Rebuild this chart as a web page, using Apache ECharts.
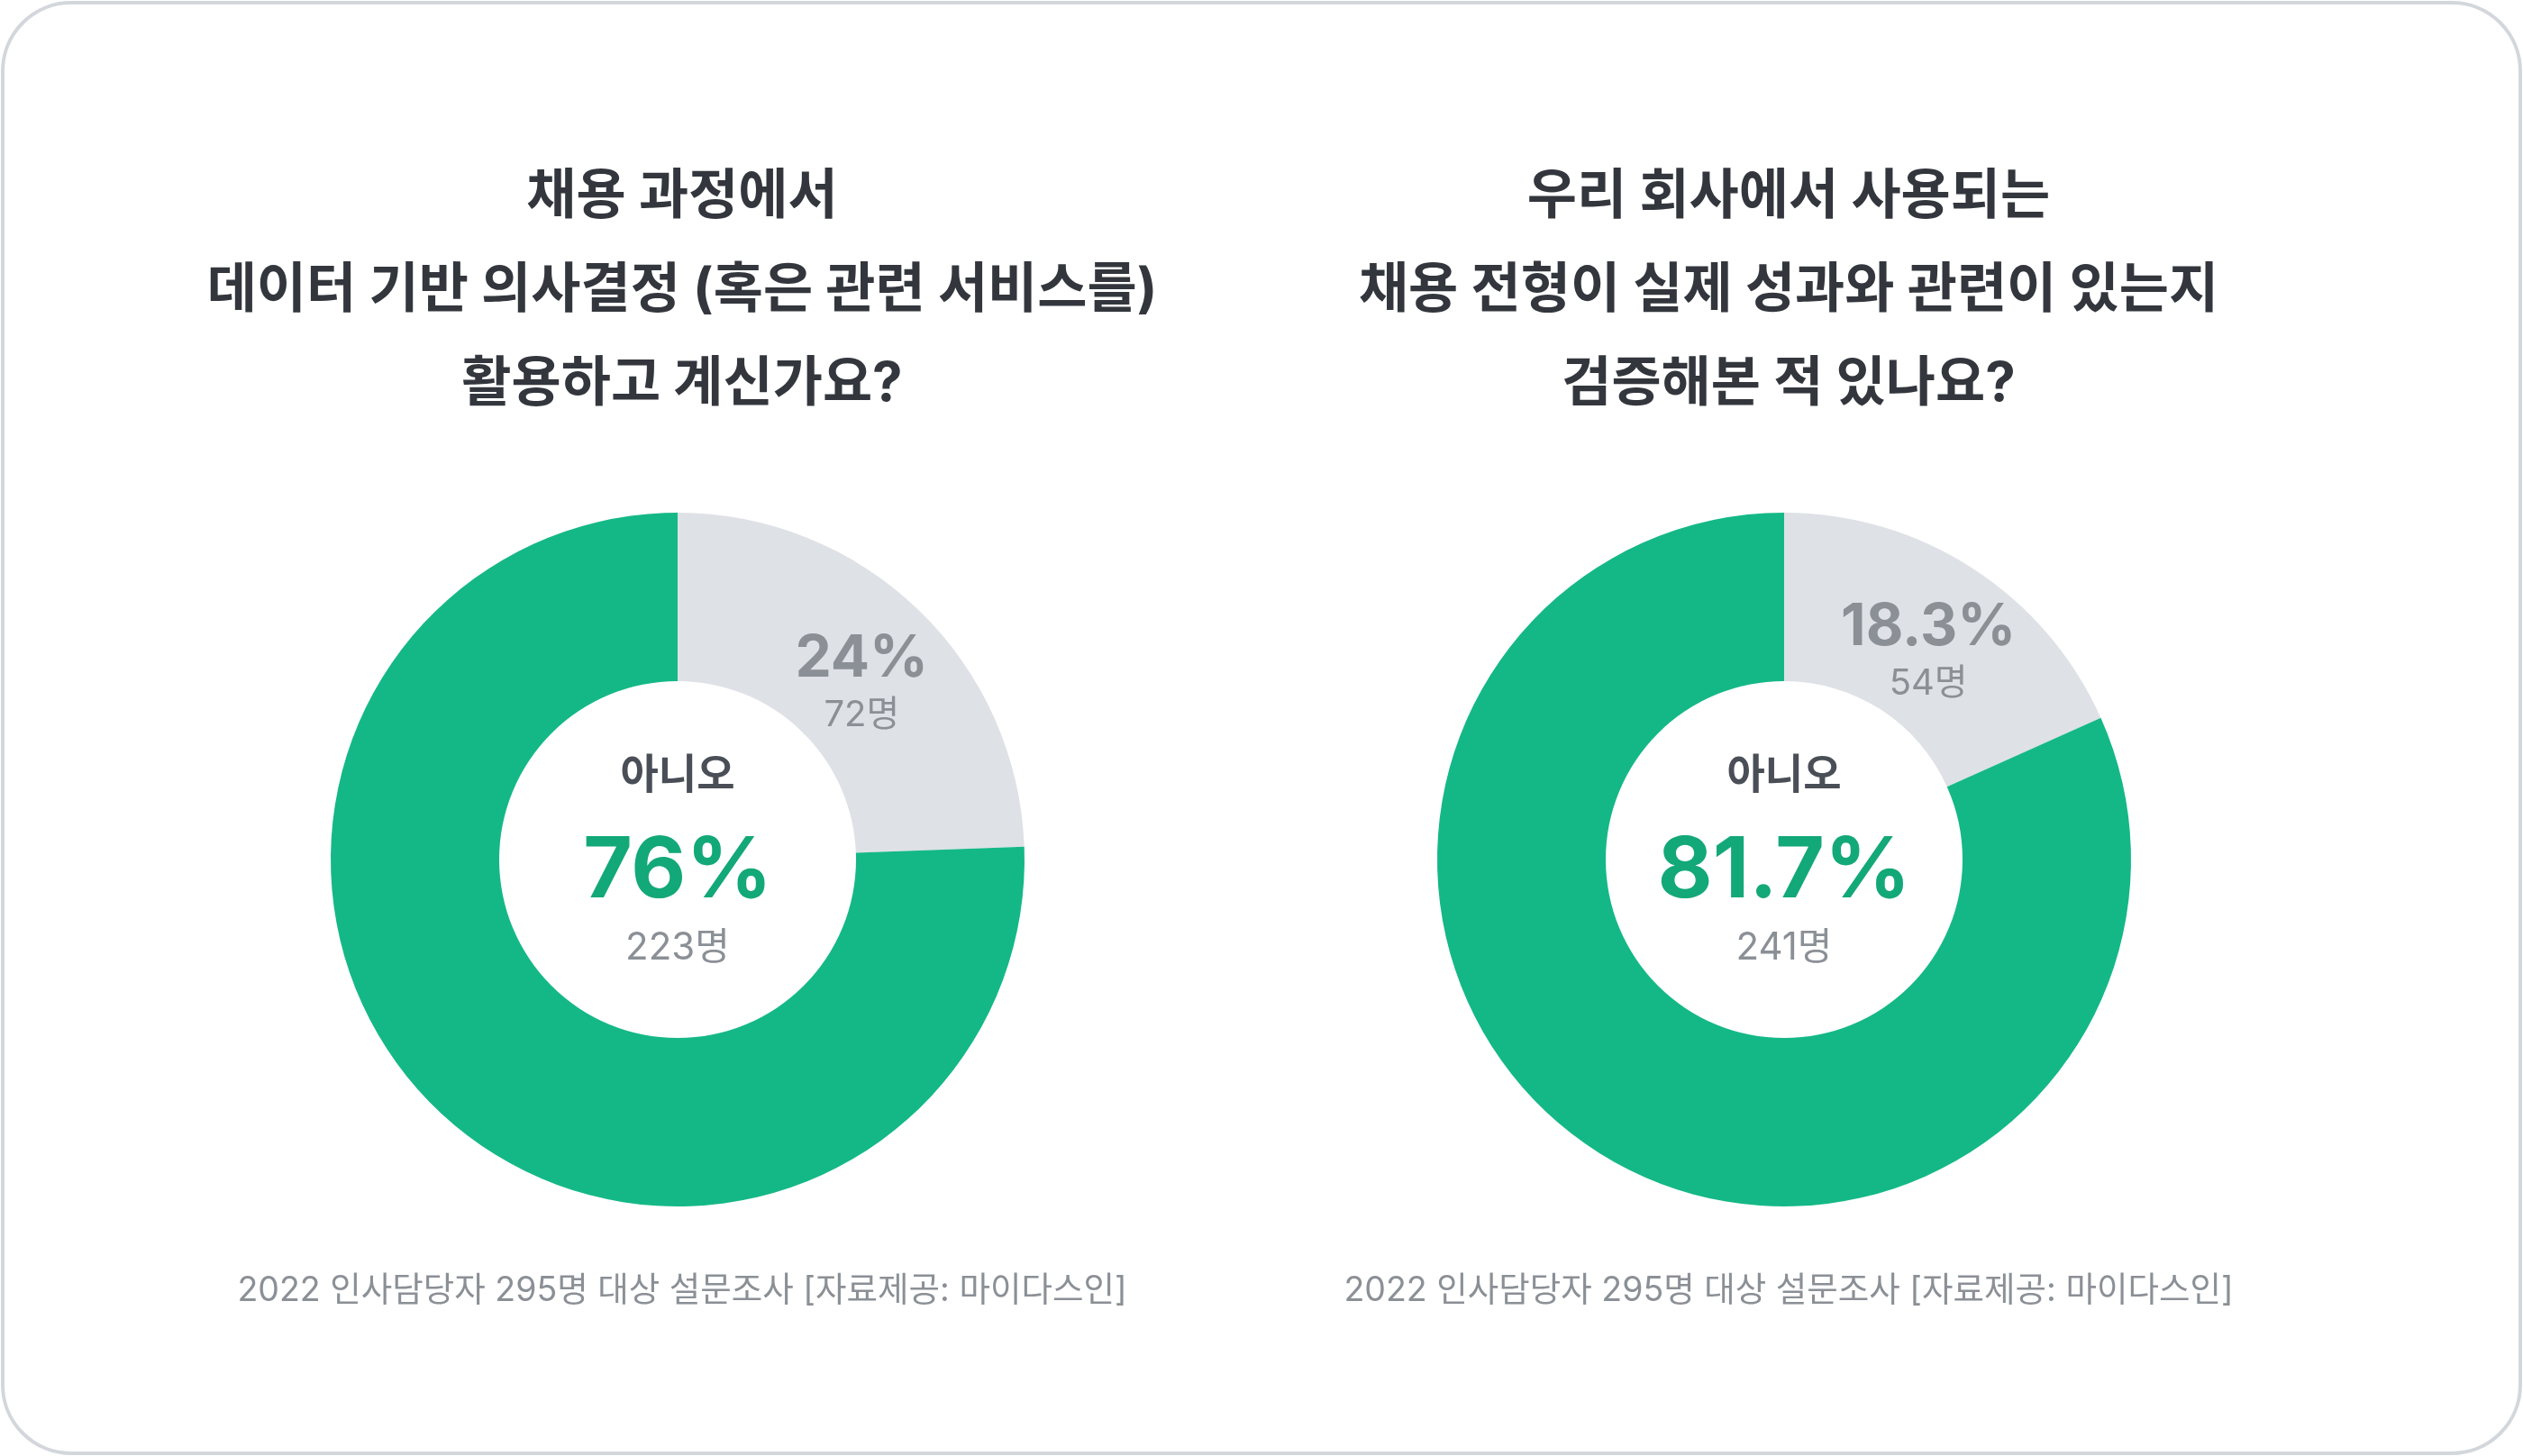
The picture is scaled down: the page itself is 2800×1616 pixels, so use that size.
<!DOCTYPE html>
<html>
<head>
<meta charset="utf-8">
<script src="https://cdn.jsdelivr.net/npm/echarts@6/dist/echarts.min.js"></script>
<style>
html,body{margin:0;padding:0;background:#fff;}
#chart{width:2800px;height:1616px;}
</style>
</head>
<body>
<div id="chart"></div>
<script>
// ---- data ----
const titles = [
  ['채용 과정에서', '데이터 기반 의사결정 (혹은 관련 서비스를)', '활용하고 계신가요?'],
  ['우리 회사에서 사용되는', '채용 전형이 실제 성과와 관련이 있는지', '검증해본 적 있나요?']
];
const categories = ['예', '아니오'];
const countsLeft = [72, 223];
const countsRight = [54, 241];
const pctLeft = ['24%', '76%'];
const pctRight = ['18.3%', '81.7%'];
const footnote = '2022 인사담당자 295명 대상 설문조사 [자료제공: 마이다스인]';

const FONT = "Inter, 'Noto Sans CJK KR', 'Noto Sans', sans-serif";
const GREEN = '#14b886';
const GREY = '#dee1e6';

function buildPie(counts, pcts, cx) {
  return {
    type: 'pie',
    center: [cx, 954],
    radius: [198, 385],
    startAngle: 90,
    clockwise: true,
    silent: true,
    labelLine: { show: false },
    data: counts.map((v, i) => {
      const isMain = i === 1;
      return {
        value: v,
        name: categories[i],
        itemStyle: { color: isMain ? GREEN : GREY },
        label: isMain ? {
          show: true,
          position: 'center',
          padding: [0, 0, 18, 0],
          formatter: '{n|' + categories[i] + '}\n{p|' + pcts[i] + '}\n{c|' + v + '명}',
          rich: {
            n: { fontFamily: FONT, fontSize: 46, fontWeight: 'bold', color: '#4a4f57', lineHeight: 114 },
            p: { fontFamily: FONT, fontSize: 94, fontWeight: 'bold', color: '#13a878', lineHeight: 100 },
            c: { fontFamily: FONT, fontSize: 42, color: '#8b9096', lineHeight: 68 }
          }
        } : {
          show: true,
          position: 'inside',
          padding: [36, 0, 0, 0],
          formatter: '{p|' + pcts[i] + '}\n{c|' + v + '명}',
          rich: {
            p: { fontFamily: FONT, fontSize: 64, fontWeight: 'bold', color: '#8b9096', lineHeight: 68 },
            c: { fontFamily: FONT, fontSize: 40, color: '#8b9096', lineHeight: 56 }
          }
        }
      };
    })
  };
}

const titleStyle = { fontFamily: FONT, fontSize: 60, fontWeight: 'bold', color: '#33373d', lineHeight: 104 };
const footStyle = { fontFamily: FONT, fontSize: 37.5, fontWeight: 'normal', color: '#8b9096' };

const chart = echarts.init(document.getElementById('chart'), null, { renderer: 'canvas' });
chart.setOption({
  backgroundColor: '#ffffff',
  animation: false,
  title: [
    { text: titles[0].join('\n'), left: 752, top: 162, textAlign: 'center', textStyle: titleStyle },
    { text: titles[1].join('\n'), left: 1980, top: 162, textAlign: 'center', textStyle: titleStyle },
    { text: footnote, left: 752, top: 1409, textAlign: 'center', textStyle: footStyle },
    { text: footnote, left: 1980, top: 1409, textAlign: 'center', textStyle: footStyle }
  ],
  graphic: [{
    type: 'rect',
    silent: true,
    z: -10,
    shape: { x: 3, y: 3, width: 2794, height: 1610, r: 76 },
    style: { fill: '#ffffff', stroke: '#d3d7dc', lineWidth: 4 }
  }],
  series: [
    buildPie(countsLeft, pctLeft, 752),
    buildPie(countsRight, pctRight, 1980)
  ]
});
</script>
</body>
</html>
